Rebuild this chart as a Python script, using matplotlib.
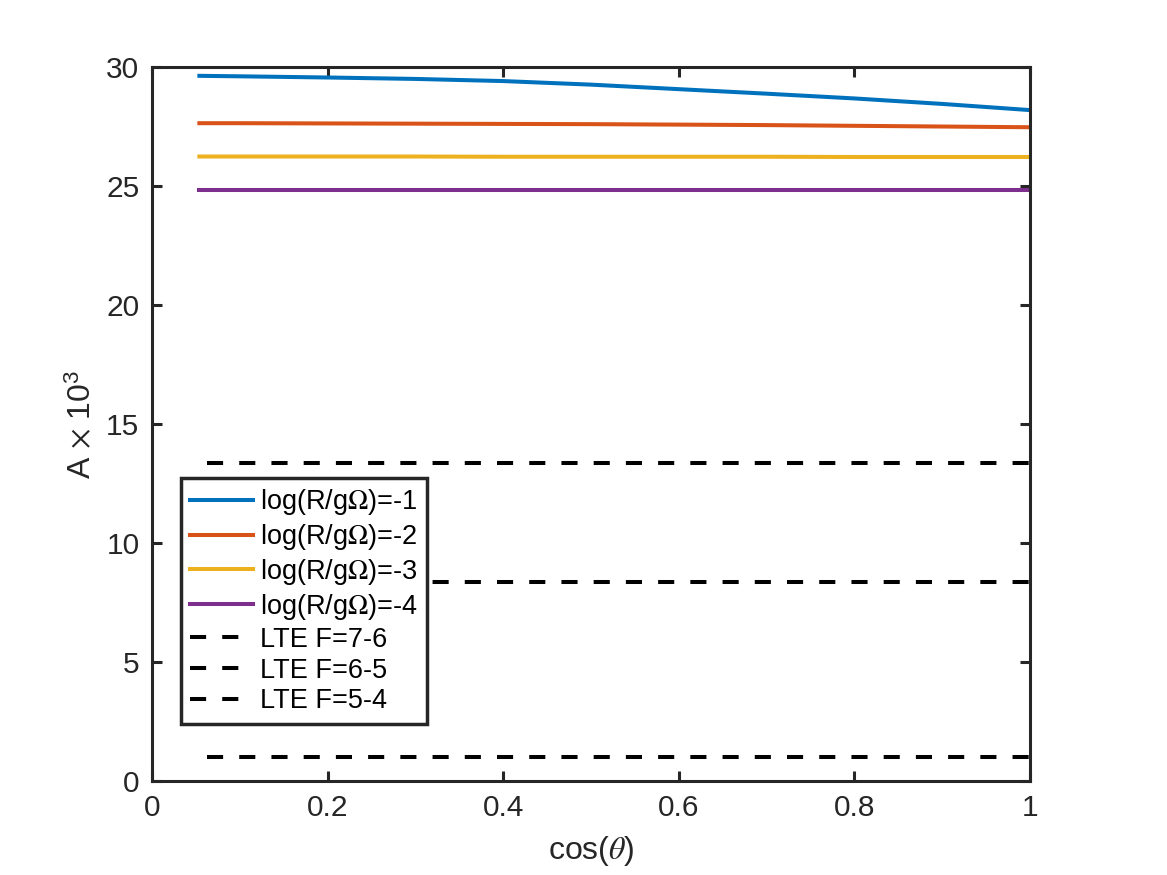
import numpy as np
import matplotlib
matplotlib.use('Agg')
import matplotlib.pyplot as plt

plt.rcParams['font.family'] = ['Liberation Sans', 'DejaVu Sans']
plt.rcParams['mathtext.fontset'] = 'stix'

# cos(theta) samples and A x 10^3 values
cos_theta = [0.054, 0.1, 0.2, 0.3, 0.4, 0.5, 0.6, 0.7, 0.8, 0.9, 1.0]
a_m1 = [29.63, 29.61, 29.56, 29.50, 29.41, 29.26, 29.07, 28.88, 28.68, 28.45, 28.19]
a_m2 = [27.64, 27.64, 27.63, 27.62, 27.61, 27.60, 27.58, 27.56, 27.53, 27.50, 27.47]
a_m3 = [26.24, 26.24, 26.24, 26.24, 26.23, 26.23, 26.23, 26.23, 26.22, 26.22, 26.22]
a_m4 = [24.84, 24.84, 24.84, 24.84, 24.84, 24.84, 24.84, 24.84, 24.84, 24.84, 24.84]
series = [a_m1, a_m2, a_m3, a_m4]
series_labels = [r'log(R/g$\Omega$)=-1', r'log(R/g$\Omega$)=-2',
                 r'log(R/g$\Omega$)=-3', r'log(R/g$\Omega$)=-4']
colors = ['#0072BD', '#D95319', '#EDB120', '#7E2F8E']

lte_x = [0.063, 1.0]
lte_values = [13.35, 8.35, 1.0]
lte_labels = ['LTE F=7-6', 'LTE F=6-5', 'LTE F=5-4']

fig = plt.figure(figsize=(11.67, 8.75), dpi=100)
ax = fig.add_axes([0.1302, 0.1074, 0.7524, 0.816])

for vals, lab, c in zip(series, series_labels, colors):
    ax.plot(cos_theta, vals, color=c, lw=2.9, label=lab)
for v, lab in zip(lte_values, lte_labels):
    ax.plot(lte_x, [v, v], color='black', lw=2.9, linestyle=(0, (4, 4)), label=lab)

ax.set_xlim(0, 1)
ax.set_ylim(0, 30)
ax.set_xticks([0, 0.2, 0.4, 0.6, 0.8, 1])
ax.set_xticklabels(['0', '0.2', '0.4', '0.6', '0.8', '1'])
ax.set_yticks(range(0, 31, 5))

dark = '#262626'
for s in ax.spines.values():
    s.set_linewidth(2.2)
    s.set_color(dark)
ax.tick_params(direction='in', length=7, width=2.2, colors=dark, labelsize=21.5,
               top=True, right=True, pad=9)

ax.set_xlabel(r'cos($\theta$)', fontsize=23, color=dark, labelpad=9)
ax.set_ylabel(r'A $\times$ 10$^{\mathregular{3}}$', fontsize=23, color=dark, labelpad=6)

leg = ax.legend(loc='lower left', bbox_to_anchor=(0.033, 0.08), fontsize=19.5,
                handlelength=2.3, handletextpad=0.27, labelspacing=0.18,
                borderpad=0.35, borderaxespad=0, fancybox=False, framealpha=1)
leg.get_frame().set_edgecolor(dark)
leg.get_frame().set_linewidth(2.5)

fig.savefig('out.png', dpi=100)
